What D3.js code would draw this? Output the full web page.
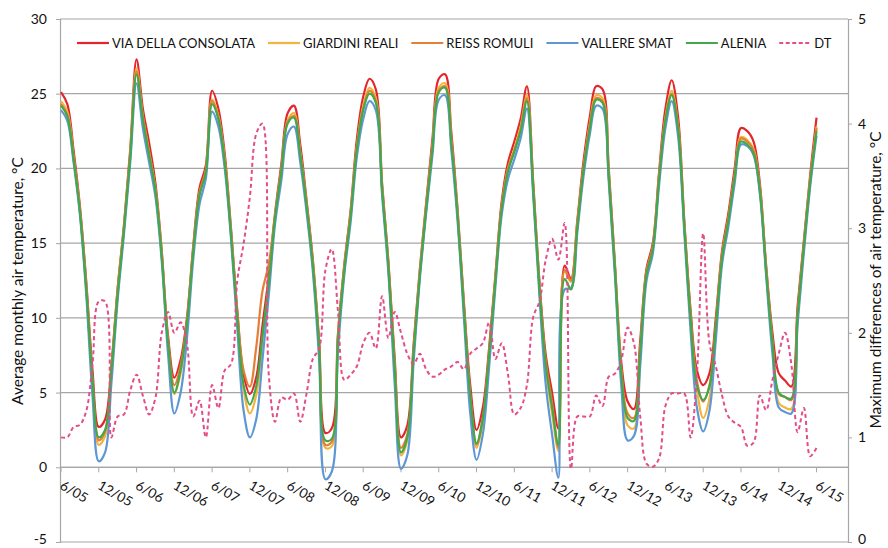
<!DOCTYPE html>
<html lang="en">
<head>
<meta charset="UTF-8">
<title>Air temperature Turin</title>
<script src="https://d3js.org/d3.v7.min.js"></script>
<style>
  body {margin: 0; background: #fff;}
  text {font-family: Lato, "Open Sans", sans-serif; fill: #111;}
  .grid line {stroke: #a6a6a6; stroke-width: 1.2;}
</style>
</head>
<body>
<div id="chart"></div>
<script>
// month index 0 = 6/05 ... 120 = 6/15
var tickLabels = ["6/05","12/05","6/06","12/06","6/07","12/07","6/08","12/08","6/09","12/09","6/10",
                  "12/10","6/11","12/11","6/12","12/12","6/13","12/13","6/14","12/14","6/15"];

var consolata = [25.1,24.3,21.2,17.5,12.5,6.5,2.7,3.2,6.8,12.0,
  16.2,21.3,27.3,24.0,21.7,19.0,14.5,8.8,6.0,7.2,
  10.0,14.8,18.7,20.2,25.2,24.0,21.0,16.0,10.5,6.2,
  4.9,6.0,9.5,12.8,17.0,20.3,23.7,24.2,21.6,17.9,
  13.9,8.5,2.3,2.6,9.0,13.6,17.2,22.0,24.8,26.0,
  25.3,19.0,13.8,7.3,2.0,2.8,8.2,13.3,17.7,22.0,
  26.0,26.3,22.4,17.2,11.0,5.5,2.5,4.0,8.0,12.9,
  17.8,20.4,21.8,23.3,25.5,19.1,12.4,7.5,5.0,2.6,
  13.5,12.6,16.5,20.5,23.5,25.5,25.3,20.0,13.5,7.0,
  4.4,3.9,8.5,13.3,15.0,19.8,24.0,25.9,23.5,16.5,
  10.5,6.5,5.5,6.3,10.0,14.5,17.0,20.0,22.7,22.5,
  21.8,19.0,13.5,9.0,6.3,5.8,5.4,10.8,15.2,19.6,
  23.4];

var giardini = [24.5,23.8,20.8,17.2,12.1,5.6,1.5,2.1,6.2,11.7,
  16.0,20.9,26.7,23.5,21.1,18.6,14.2,8.3,4.9,6.3,
  9.5,14.5,18.3,19.8,24.6,23.5,20.6,15.7,10.0,5.2,
  3.6,4.8,8.5,12.2,16.7,19.9,23.2,23.7,21.1,17.6,
  13.6,8.0,1.3,1.4,8.6,13.3,16.9,21.5,24.2,25.4,
  24.7,18.7,13.5,6.6,0.8,1.8,7.7,13.0,17.4,21.5,
  25.4,25.7,21.9,16.9,10.6,4.6,1.3,3.0,7.4,12.6,
  17.4,20.0,21.3,22.8,24.9,18.7,12.0,6.6,3.6,1.1,
  13.1,12.4,16.2,20.0,23.0,24.9,24.7,19.6,13.2,6.3,
  2.8,2.6,7.6,13.0,14.7,19.4,23.4,25.2,22.9,16.2,
  9.9,5.2,3.3,4.6,9.1,14.1,16.6,19.5,22.1,21.9,
  21.3,18.6,13.2,8.2,4.3,4.0,3.9,10.0,14.8,19.2,
  22.8];

var reiss = [24.3,23.6,20.7,17.3,12.3,5.9,1.8,2.4,6.5,11.9,
  16.1,21.0,26.5,23.4,21.0,18.6,14.3,8.5,5.5,6.8,
  9.8,14.6,18.4,19.9,24.5,23.4,20.5,15.8,10.4,6.5,
  5.4,8.0,11.8,13.6,16.9,20.0,23.1,23.5,21.0,17.6,
  13.7,8.2,1.5,1.7,8.8,13.4,17.0,21.4,24.0,25.2,
  24.5,18.7,13.6,6.9,1.3,2.2,7.9,13.1,17.5,21.5,
  25.2,25.5,21.8,16.9,10.8,4.9,1.5,3.3,7.7,12.7,
  17.5,20.0,21.2,22.6,24.7,18.8,12.2,7.1,4.3,1.3,
  13.2,12.5,16.3,20.1,22.9,24.7,24.5,19.6,13.3,6.6,
  3.6,3.3,8.0,13.1,14.8,19.5,23.3,25.0,22.8,16.3,
  10.2,5.8,4.4,5.5,9.6,14.3,16.7,19.6,22.0,21.8,
  21.2,18.7,13.3,8.5,4.9,4.7,4.5,10.4,15.0,19.3,
  22.7];

var vallere = [23.9,23.2,20.4,16.9,11.6,4.8,0.4,1.0,5.6,11.2,
  15.6,20.4,25.7,22.7,20.4,18.1,13.8,7.6,3.6,5.0,
  8.6,13.9,17.6,19.3,23.8,22.8,20.0,15.3,9.3,3.8,
  2.0,3.2,7.2,11.5,16.3,19.2,22.3,22.8,20.4,17.1,
  13.1,7.2,-0.8,-0.3,7.8,12.9,16.4,20.8,23.3,24.5,
  23.9,18.2,13.0,5.6,-0.1,0.8,7.0,12.6,17.0,20.9,
  24.6,24.9,21.2,16.4,10.0,3.6,0.5,2.2,6.7,12.1,
  16.9,19.3,20.6,22.0,24.0,18.2,11.4,5.5,2.2,-0.7,
  11.9,12.0,15.7,19.5,22.3,24.2,24.0,19.1,12.7,5.4,
  1.8,2.1,6.8,12.5,14.3,18.9,22.7,24.5,22.2,15.7,
  9.1,4.0,2.4,3.8,8.5,13.6,16.1,19.0,21.6,21.5,
  20.9,18.3,12.8,7.6,4.0,3.7,3.6,9.6,14.4,18.8,
  22.2];

var alenia = [24.2,23.5,20.6,17.1,12.0,5.9,2.0,2.5,6.4,11.6,
  15.9,20.8,26.3,23.3,20.9,18.5,14.1,8.3,5.0,6.5,
  9.6,14.4,18.2,19.7,24.3,23.3,20.4,15.6,10.0,5.5,
  4.2,5.4,8.8,12.3,16.7,19.8,23.0,23.4,20.9,17.5,
  13.5,8.1,1.8,1.9,8.6,13.2,16.8,21.3,23.9,25.0,
  24.4,18.6,13.4,6.6,1.0,2.0,7.7,12.9,17.3,21.3,
  25.1,25.4,21.7,16.8,10.5,4.8,1.6,3.3,7.5,12.5,
  17.3,19.8,21.1,22.5,24.5,18.6,11.9,6.8,4.0,1.5,
  12.6,11.9,16.0,19.9,22.7,24.6,24.4,19.5,13.1,6.3,
  3.3,3.1,7.8,12.9,14.6,19.3,23.2,24.9,22.7,16.1,
  9.9,5.5,4.5,5.4,9.4,14.0,16.5,19.4,21.8,21.6,
  21.0,18.5,13.1,8.3,5.0,4.7,4.6,10.2,14.8,19.1,
  22.5];

// maximum difference between stations (right axis)
var dt = [1.0,1.0,1.1,1.12,1.25,1.7,2.3,2.3,1.0,1.2,
  1.22,1.45,1.6,1.4,1.22,1.38,2.0,2.2,2.0,2.1,
  1.9,1.2,1.35,1.0,1.5,1.28,1.64,1.7,2.5,2.85,
  3.3,3.9,4.0,1.6,1.15,1.38,1.36,1.42,1.15,1.42,
  1.75,1.85,2.6,2.8,2.2,1.55,1.6,1.68,1.9,2.0,
  1.85,2.35,1.95,2.2,2.0,1.8,1.7,1.8,1.65,1.58,
  1.6,1.65,1.68,1.72,1.65,1.8,1.85,1.9,2.1,1.75,
  1.9,1.6,1.22,1.28,1.5,2.15,2.3,2.7,2.9,2.7,
  3.05,0.7,1.2,1.2,1.2,1.4,1.3,1.58,1.61,1.74,
  2.05,1.9,1.2,0.75,0.72,0.8,1.3,1.42,1.42,1.42,
  1.0,1.6,2.95,1.9,1.68,1.4,1.2,1.14,1.1,0.92,
  0.95,1.4,1.26,1.55,1.8,2.0,1.7,1.05,1.28,0.82,
  0.9];

var series = [
  {name: "VIA DELLA CONSOLATA", values: consolata, color: "#e3262b"},
  {name: "GIARDINI REALI", values: giardini, color: "#f2b43c"},
  {name: "REISS ROMULI", values: reiss, color: "#e47f34"},
  {name: "VALLERE SMAT", values: vallere, color: "#5e97d4"},
  {name: "ALENIA", values: alenia, color: "#43a84a"}
];

var width = 888, height = 548;
var plot = {left: 60, right: 848, top: 19, bottom: 542};

var svg = d3.select("#chart").append("svg")
    .attr("width", width)
    .attr("height", height);

var x = d3.scaleLinear().domain([0, 125]).range([61, 848]);
var y = d3.scaleLinear().domain([-5, 30]).range([plot.bottom, plot.top]);
var y2 = d3.scaleLinear().domain([0, 5]).range([plot.bottom, plot.top]);

// gridlines
svg.append("g").attr("class", "grid")
  .selectAll("line")
  .data(d3.range(-5, 31, 5))
  .enter().append("line")
    .attr("x1", plot.left).attr("x2", plot.right)
    .attr("y1", function(d) {return y(d);})
    .attr("y2", function(d) {return y(d);});

// left axis (plain hyphen for negatives, like the original)
var yAxis = d3.axisLeft(y).tickValues(d3.range(-5, 31, 5)).tickSize(4).tickPadding(9)
  .tickFormat(function(d) {return String(d);});
var gy = svg.append("g").attr("transform", "translate(" + plot.left + ",0)").call(yAxis);
gy.select(".domain").attr("stroke", "#a6a6a6").attr("stroke-width", 1.2);
gy.selectAll(".tick line").attr("stroke", "#a6a6a6");
gy.selectAll(".tick text").style("font-size", "14px").style("font-family", "Lato, sans-serif").attr("fill", "#111")
  .attr("dy", function(d) {return d === -5 ? "0.1em" : "0.32em";});

// right axis
var yAxis2 = d3.axisRight(y2).ticks(5).tickSize(4).tickPadding(6);
var gy2 = svg.append("g").attr("transform", "translate(" + plot.right + ",0)").call(yAxis2);
gy2.select(".domain").attr("stroke", "#a6a6a6").attr("stroke-width", 1.2);
gy2.selectAll(".tick line").attr("stroke", "#a6a6a6");
gy2.selectAll(".tick text").style("font-size", "14px").style("font-family", "Lato, sans-serif").attr("fill", "#111")
  .attr("dy", function(d) {return d === 0 ? "0.1em" : "0.32em";});

// x axis crossing at 0
var gx = svg.append("g").attr("transform", "translate(0," + y(0) + ")");
gx.append("line").attr("x1", plot.left).attr("x2", plot.right)
  .attr("stroke", "#a6a6a6").attr("stroke-width", 1.2);
var xt = gx.selectAll(".xtick").data(tickLabels).enter().append("g")
  .attr("class", "xtick")
  .attr("transform", function(d, i) {return "translate(" + x(i * 6) + ",0)";});
xt.append("line").attr("y1", 0).attr("y2", 5).attr("stroke", "#a6a6a6");
xt.append("text")
  .attr("transform", "translate(-2,21) rotate(30)")
  .style("font-size", "13.5px")
  .text(function(d) {return d;});

// lines
var line = d3.line()
  .x(function(d, i) {return x(i);})
  .y(function(d) {return y(d);})
  .curve(d3.curveCatmullRom.alpha(0.5));

svg.append("g").selectAll("path")
  .data(series)
  .enter().append("path")
    .attr("d", function(s) {return line(s.values);})
    .attr("fill", "none")
    .attr("stroke", function(s) {return s.color;})
    .attr("stroke-width", 2.2)
    .attr("stroke-linejoin", "round");

var dtLine = d3.line()
  .x(function(d, i) {return x(i);})
  .y(function(d) {return y2(d);})
  .curve(d3.curveCatmullRom.alpha(0.5));

svg.append("path")
  .attr("d", dtLine(dt))
  .attr("fill", "none")
  .attr("stroke", "#e34d88")
  .attr("stroke-width", 2)
  .attr("stroke-dasharray", "4,3");

// legend
var legendItems = series.map(function(s) {return {name: s.name, color: s.color, dash: null};});
legendItems.push({name: "DT", color: "#e34d88", dash: "4,2.5"});

var lg = svg.append("g").attr("transform", "translate(0,43)");
var lx = 77;
legendItems.forEach(function(it) {
  lg.append("line").attr("x1", lx).attr("x2", lx + 32).attr("y1", 0).attr("y2", 0)
    .attr("stroke", it.color).attr("stroke-width", 2.2)
    .attr("stroke-dasharray", it.dash);
  var t = lg.append("text").attr("x", lx + 35).attr("y", 5)
    .style("font-size", "13px")
    .text(it.name);
  lx = lx + 35 + t.node().getComputedTextLength() + 13;
});

// axis titles
svg.append("text")
  .attr("transform", "translate(23,281) rotate(-90)")
  .attr("text-anchor", "middle")
  .style("font-size", "15.5px")
  .text("Average monthly air temperature, °C");

svg.append("text")
  .attr("transform", "translate(881,280) rotate(-90)")
  .attr("text-anchor", "middle")
  .style("font-size", "15.5px")
  .text("Maximum differences of air temperature, °C");
</script>
</body>
</html>
